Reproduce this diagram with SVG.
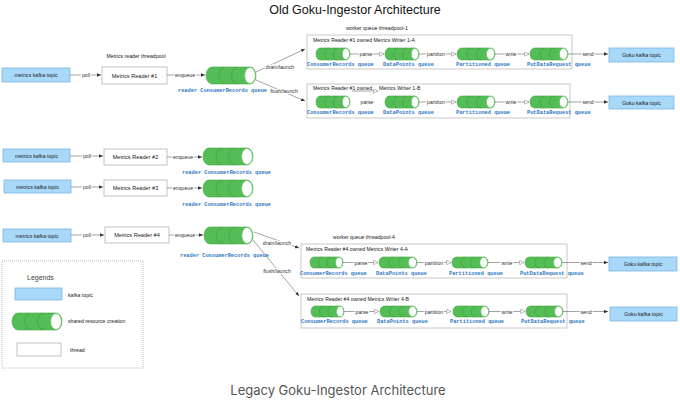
<svg xmlns="http://www.w3.org/2000/svg" xmlns:xlink="http://www.w3.org/1999/xlink" width="680" height="401" viewBox="0 0 680 401">
<style>
text{font-family:"Liberation Sans",Arial,sans-serif;fill:#222}
.title{font-size:12.5px;fill:#111}
.cap{font-size:13px;fill:#555;font-family:Inter,"Liberation Sans",sans-serif}
.s{font-size:5.2px}
.m{font-size:5.6px}
.lbl{font-size:5.2px;fill:#333;stroke:#fff;stroke-width:2.2px;paint-order:stroke;text-anchor:middle}
.q{font-family:"Liberation Mono","DejaVu Sans Mono",monospace;font-size:5.3px;fill:#2f78c4;font-weight:bold}
.kafka{fill:#a9d9f8;stroke:#7ab6e2;stroke-width:0.8}
.thread{fill:#fff;stroke:#b5b5b5;stroke-width:0.8}
.wbox{fill:#fff;stroke:#c4c4c4;stroke-width:0.9}
.ln{fill:none;stroke:#666;stroke-width:0.6}
.ca{marker-end:url(#fa)}
.oa{marker-end:url(#oa)}
.mid{text-anchor:middle}
</style>
<defs>
<marker id="fa" viewBox="0 0 6 6" refX="6" refY="3" markerWidth="4" markerHeight="4" markerUnits="userSpaceOnUse" orient="auto"><path d="M0,0.5 L6,3 L0,5.5 z" fill="#333"/></marker>
<marker id="oa" viewBox="0 0 8 8" refX="7.5" refY="4" markerWidth="5" markerHeight="5" markerUnits="userSpaceOnUse" orient="auto"><path d="M0.5,0.5 L7.5,4 L0.5,7.5 z" fill="#fff" stroke="#888" stroke-width="0.9"/></marker>
<symbol id="cyl" viewBox="0 0 50 16" preserveAspectRatio="none" overflow="visible">
<path d="M6,0 H44 A6,8 0 0 1 44,16 H6 A6,8 0 0 1 6,0 Z" fill="#55bd55" stroke="#46a846" stroke-width="0.6" vector-effect="non-scaling-stroke"/>
<path d="M19,0.3 A6,7.7 0 0 0 19,15.7 M31.5,0.3 A6,7.7 0 0 0 31.5,15.7" fill="none" stroke="#3f9b3f" stroke-width="0.6" vector-effect="non-scaling-stroke"/>
<ellipse cx="44" cy="8" rx="5.4" ry="7.6" fill="#fff" stroke="#63c463" stroke-width="0.8" vector-effect="non-scaling-stroke"/>
</symbol>
</defs>
<rect width="680" height="401" fill="#fff"/>

<text class="title" x="355" y="14" text-anchor="middle">Old Goku-Ingestor Architecture</text>

<!-- row 1 -->
<g id="kafka1"><rect class="kafka" x="2" y="68" width="68" height="14"/><text class="s mid" x="36" y="77">metrics kafka topic</text></g>
<text class="s mid" x="136" y="58">Metrics reader threadpool</text>
<g id="reader1"><rect class="thread" x="102" y="67" width="65" height="17"/><text class="m mid" x="134.5" y="77.5">Metrics Reader #1</text></g>
<g id="rq1"><use href="#cyl" x="206" y="67" width="50" height="17"/><text class="q" x="178" y="92">reader ConsumerRecords queue</text></g>

<g id="writer1a">
<text class="s mid" x="377" y="30">worker queue threadpool-1</text>
<rect class="wbox" x="307" y="35" width="265" height="34"/>
<text class="s" x="313" y="42">Metrics Reader #1 owned Metrics Writer 1-A</text>
<use href="#cyl" x="316" y="48" width="34" height="12"/>
<use href="#cyl" x="385" y="48" width="34" height="12"/>
<use href="#cyl" x="457" y="48" width="38" height="12"/>
<use href="#cyl" x="530" y="48" width="38" height="12"/>
<text class="q" x="307" y="66">ConsumerRecords queue</text>
<text class="q" x="383" y="66">DataPoints queue</text>
<text class="q" x="456" y="66">Partitioned queue</text>
<text class="q" x="527" y="66">PutDataRequest queue</text>
</g>
<g id="goku1a"><rect class="kafka" x="609" y="48" width="65" height="14"/><text class="s mid" x="641.5" y="57">Goku kafka topic</text></g>

<g id="writer1b">
<rect class="wbox" x="307" y="84" width="263" height="34"/>
<text class="s" x="313" y="90">Metrics Reader #1 owned</text>
<text class="s" x="379" y="90">Metrics Writer 1-B</text>
<use href="#cyl" x="316" y="96" width="34" height="12"/>
<use href="#cyl" x="385" y="96" width="34" height="12"/>
<use href="#cyl" x="457" y="96" width="38" height="12"/>
<use href="#cyl" x="530" y="96" width="38" height="12"/>
<text class="q" x="307" y="114">ConsumerRecords queue</text>
<text class="q" x="383" y="114">DataPoints queue</text>
<text class="q" x="456" y="114">Partitioned queue</text>
<text class="q" x="527" y="114">PutDataRequest queue</text>
</g>
<g id="goku1b"><rect class="kafka" x="609" y="96" width="65" height="13"/><text class="s mid" x="641.5" y="104.5">Goku kafka topic</text></g>

<!-- row 2 -->
<g id="kafka2"><rect class="kafka" x="3" y="149" width="67" height="13"/><text class="s mid" x="36.5" y="157.5">metrics kafka topic</text></g>
<g id="reader2"><rect class="thread" x="104" y="149" width="63" height="16"/><text class="m mid" x="135.5" y="159">Metrics Reader #2</text></g>
<g id="rq2"><use href="#cyl" x="203" y="148" width="50" height="17"/><text class="q" x="182" y="174">reader ConsumerRecords queue</text></g>

<!-- row 3 -->
<g id="kafka3"><rect class="kafka" x="4" y="180" width="67" height="13"/><text class="s mid" x="37.5" y="188.5">metrics kafka topic</text></g>
<g id="reader3"><rect class="thread" x="104" y="180" width="63" height="16"/><text class="m mid" x="135.5" y="190">Metrics Reader #3</text></g>
<g id="rq3"><use href="#cyl" x="203" y="180" width="50" height="17"/><text class="q" x="182" y="206">reader ConsumerRecords queue</text></g>

<!-- row 4 -->
<g id="kafka4"><rect class="kafka" x="3" y="229" width="68" height="13"/><text class="s mid" x="37" y="237.5">metrics kafka topic</text></g>
<g id="reader4"><rect class="thread" x="105" y="227" width="64" height="16"/><text class="m mid" x="137" y="237">Metrics Reader #4</text></g>
<g id="rq4"><use href="#cyl" x="204" y="227" width="49" height="17"/><text class="q" x="180" y="257">reader ConsumerRecords queue</text></g>

<g id="writer4a">
<text class="s mid" x="364" y="239">worker queue threadpool-4</text>
<rect class="wbox" x="301" y="244" width="266" height="34"/>
<text class="s" x="306" y="251">Metrics Reader #4 owned Metrics Writer 4-A</text>
<use href="#cyl" x="310" y="257" width="33" height="11"/>
<use href="#cyl" x="379" y="257" width="38" height="11"/>
<use href="#cyl" x="452" y="257" width="36" height="11"/>
<use href="#cyl" x="525" y="257" width="37" height="11"/>
<text class="q" x="300" y="275">ConsumerRecords queue</text>
<text class="q" x="376" y="275">DataPoints queue</text>
<text class="q" x="449" y="275">Partitioned queue</text>
<text class="q" x="520" y="275">PutDataRequest queue</text>
</g>
<g id="goku4a"><rect class="kafka" x="609" y="257" width="68" height="14"/><text class="s mid" x="643" y="266">Goku kafka topic</text></g>

<g id="writer4b">
<rect class="wbox" x="301" y="294" width="266" height="34"/>
<text class="s" x="307" y="300.5">Metrics Reader #4 owned Metrics Writer 4-B</text>
<use href="#cyl" x="311" y="306" width="33" height="11"/>
<use href="#cyl" x="380" y="306" width="37" height="11"/>
<use href="#cyl" x="453" y="306" width="36" height="11"/>
<use href="#cyl" x="526" y="306" width="37" height="11"/>
<text class="q" x="301" y="323">ConsumerRecords queue</text>
<text class="q" x="377" y="323">DataPoints queue</text>
<text class="q" x="450" y="323">Partitioned queue</text>
<text class="q" x="521" y="323">PutDataRequest queue</text>
</g>
<g id="goku4b"><rect class="kafka" x="610" y="307" width="67" height="14"/><text class="s mid" x="643.5" y="316">Goku kafka topic</text></g>

<!-- legend -->
<g id="legend">
<rect x="2" y="261" width="141" height="107" fill="none" stroke="#aaa" stroke-width="0.8" stroke-dasharray="1,1"/>
<text x="27" y="280" style="font-size:7px;fill:#444">Legends</text>
<rect class="kafka" x="15" y="288" width="47" height="12"/>
<text class="s" x="68" y="297">kafka topic</text>
<use href="#cyl" x="12" y="313" width="50" height="17"/>
<text class="s" x="68" y="323">shared resource creation</text>
<rect class="thread" x="17" y="343" width="44" height="13"/>
<text class="s" x="70" y="352">thread</text>
</g>

<!-- connectors -->
<g id="connectors">
<line class="ln ca" x1="70" y1="75" x2="101" y2="75"/>
<line class="ln ca" x1="167" y1="75" x2="205" y2="75"/>
<line class="ln ca" x1="256" y1="72" x2="305" y2="49"/>
<line class="ln ca" x1="256" y1="80" x2="305" y2="101"/>
<line class="ln oa" x1="350" y1="54" x2="384" y2="54"/>
<line class="ln oa" x1="419" y1="54" x2="456" y2="54"/>
<line class="ln oa" x1="495" y1="54" x2="529" y2="54"/>
<line class="ln ca" x1="568" y1="54" x2="608" y2="54"/>
<line class="ln oa" x1="352" y1="91" x2="378" y2="91"/>
<line class="ln oa" x1="419" y1="102" x2="456" y2="102"/>
<line class="ln oa" x1="495" y1="102" x2="529" y2="102"/>
<line class="ln ca" x1="568" y1="102" x2="608" y2="102"/>
<line class="ln ca" x1="70" y1="156" x2="103" y2="156"/>
<line class="ln ca" x1="167" y1="157" x2="202" y2="157"/>
<line class="ln ca" x1="71" y1="187" x2="103" y2="187"/>
<line class="ln ca" x1="167" y1="188" x2="202" y2="188"/>
<line class="ln ca" x1="71" y1="235" x2="104" y2="235"/>
<line class="ln ca" x1="169" y1="235" x2="203" y2="235"/>
<line class="ln ca" x1="254" y1="232" x2="299" y2="248"/>
<line class="ln ca" x1="253" y1="240" x2="299" y2="296"/>
<line class="ln oa" x1="343" y1="262.5" x2="378" y2="262.5"/>
<line class="ln oa" x1="417" y1="262.5" x2="451" y2="262.5"/>
<line class="ln oa" x1="488" y1="262.5" x2="524" y2="262.5"/>
<line class="ln ca" x1="562" y1="262.5" x2="608" y2="262.5"/>
<line class="ln oa" x1="344" y1="311.5" x2="379" y2="311.5"/>
<line class="ln oa" x1="417" y1="311.5" x2="451" y2="311.5"/>
<line class="ln oa" x1="489" y1="311.5" x2="525" y2="311.5"/>
<line class="ln ca" x1="563" y1="311.5" x2="608" y2="311.5"/>
<text class="lbl" x="86" y="77">poll</text>
<text class="lbl" x="185" y="77">enqueue</text>
<text class="lbl" x="280" y="69">drain/launch</text>
<text class="lbl" x="284" y="93">flush/launch</text>
<text class="lbl" x="366" y="56">parse</text>
<text class="lbl" x="436" y="56">partition</text>
<text class="lbl" x="511" y="56">write</text>
<text class="lbl" x="588" y="56">send</text>
<text class="lbl" x="367" y="104">parse</text>
<text class="lbl" x="436" y="104">partition</text>
<text class="lbl" x="511" y="104">write</text>
<text class="lbl" x="588" y="104">send</text>
<text class="lbl" x="87" y="158">poll</text>
<text class="lbl" x="183" y="159">enqueue</text>
<text class="lbl" x="87" y="189">poll</text>
<text class="lbl" x="183" y="190">enqueue</text>
<text class="lbl" x="87" y="237">poll</text>
<text class="lbl" x="185" y="237">enqueue</text>
<text class="lbl" x="277" y="245">drain/launch</text>
<text class="lbl" x="277" y="273">flush/launch</text>
<text class="lbl" x="361" y="264.5">parse</text>
<text class="lbl" x="434" y="264.5">partition</text>
<text class="lbl" x="507" y="264.5">write</text>
<text class="lbl" x="586" y="264.5">send</text>
<text class="lbl" x="362" y="313.5">parse</text>
<text class="lbl" x="434" y="313.5">partition</text>
<text class="lbl" x="507" y="313.5">write</text>
<text class="lbl" x="586" y="313.5">send</text>
</g>

<text class="cap" x="338" y="395" text-anchor="middle">Legacy Goku-Ingestor Architecture</text>
</svg>
